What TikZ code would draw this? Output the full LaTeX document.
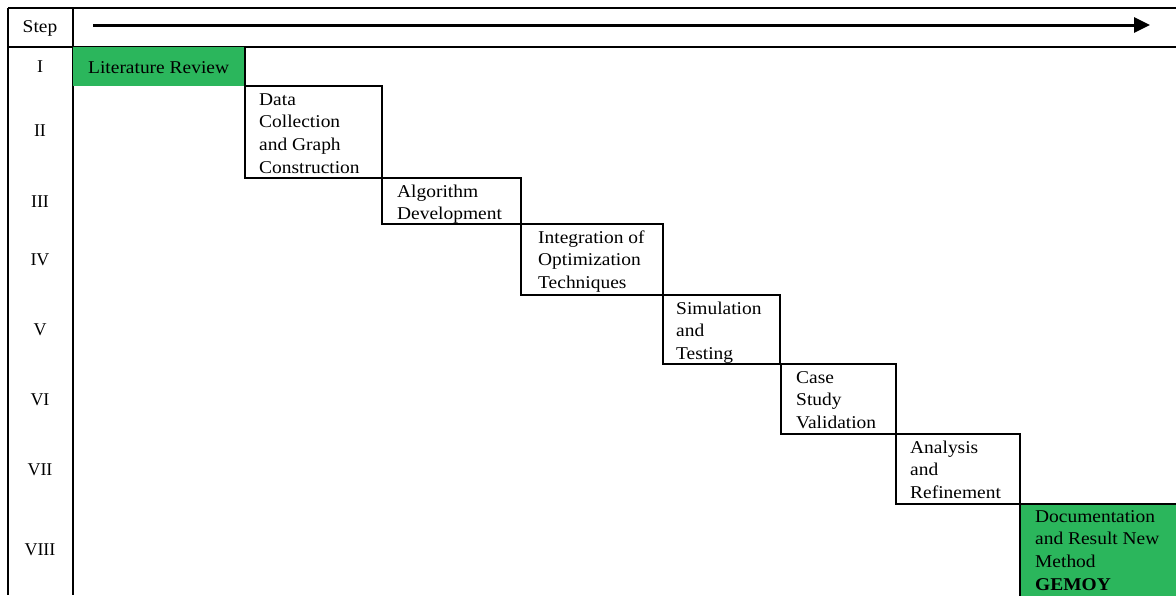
\documentclass[tikz,border=0pt]{standalone}
\usepackage{fontspec}
\setmainfont{Liberation Serif}
\newfontfamily\boxfont[FakeStretch=1.08]{Liberation Serif}
\usetikzlibrary{arrows.meta}
\definecolor{stepgreen}{RGB}{43,182,92}
\newcommand\fstrut{\rule{0pt}{14pt}}
\begin{document}
\begin{tikzpicture}[x=1pt,y=-1pt,
  rule/.style={line width=2pt},
  stepbox/.style={draw, line width=2pt, anchor=north west, inner sep=0pt, outer sep=0pt},
  greenbox/.style={fill=stepgreen, draw=none, anchor=north west, inner sep=0pt, outer sep=0pt},
  lbl/.style={anchor=north west, inner sep=0pt, align=left, font=\boxfont\fontsize{18}{22.7}\selectfont},
  rom/.style={inner sep=0pt, font=\fontsize{18}{22.7}\selectfont},
  timeline/.style={line width=3pt, -{Triangle[length=16pt,width=15pt]}}
]
\useasboundingbox (0,0) rectangle (1176,595);

% table frame
\coordinate (tl) at (8,7.5);
\coordinate (tr) at (1176,7.5);
\coordinate (hl) at (8,47);
\coordinate (hr) at (1176,47);
\coordinate (bl) at (8,595);
\coordinate (cT) at (73,7.5);
\coordinate (cB) at (73,595);
\draw[rule] (tl) -- (tr);
\draw[rule] (hl) -- (hr);
\draw[rule] (tl) -- (bl);
\draw[rule] (cT) -- (cB);

% header
\node[rom, font=\boxfont\fontsize{18}{22.7}\selectfont] (step) at (40,28) {Step};
\coordinate (arrS) at (93,25);
\coordinate (arrE) at (1150,25);
\draw[timeline] (arrS) -- (arrE);

% row numerals
\node[rom] (r1) at (40,67) {I};
\node[rom] (r2) at (40,131) {II};
\node[rom] (r3) at (40,202) {III};
\node[rom] (r4) at (40,260) {IV};
\node[rom] (r5) at (40,330) {V};
\node[rom] (r6) at (40,400) {VI};
\node[rom] (r7) at (40,470) {VII};
\node[rom] (r8) at (40,550) {VIII};

% step boxes
\node[greenbox, minimum width=172pt, minimum height=39pt] (b1) at (73,47) {};
\draw[rule] (b1.north east) -- (b1.south east);
\node[lbl] (t1) at ([xshift=15pt,yshift=-12pt]b1.north west) {\fstrut Literature Review};

\node[stepbox, minimum width=137pt, minimum height=92pt] (b2) at (245,86) {};
\node[lbl] (t2) at ([xshift=14pt,yshift=-5pt]b2.north west) {\fstrut Data\\Collection\\and Graph\\Construction};

\node[stepbox, minimum width=139pt, minimum height=46pt] (b3) at (382,178) {};
\node[lbl] (t3) at ([xshift=15pt,yshift=-5pt]b3.north west) {\fstrut Algorithm\\Development};

\node[stepbox, minimum width=142pt, minimum height=71pt] (b4) at (521,224) {};
\node[lbl] (t4) at ([xshift=17pt,yshift=-5pt]b4.north west) {\fstrut Integration of\\Optimization\\Techniques};

\node[stepbox, minimum width=117pt, minimum height=69pt] (b5) at (663,295) {};
\node[lbl] (t5) at ([xshift=13pt,yshift=-5pt]b5.north west) {\fstrut Simulation\\and\\Testing};

\node[stepbox, minimum width=115pt, minimum height=70pt] (b6) at (781,364) {};
\node[lbl] (t6) at ([xshift=15pt,yshift=-5pt]b6.north west) {\fstrut Case\\Study\\Validation};

\node[stepbox, minimum width=124pt, minimum height=70pt] (b7) at (896,434) {};
\node[lbl] (t7) at ([xshift=14pt,yshift=-5pt]b7.north west) {\fstrut Analysis\\and\\Refinement};

\node[greenbox, minimum width=160pt, minimum height=95pt] (b8) at (1020,504) {};
\draw[rule] (b8.south west) -- (b8.north west) -- (b8.north east);
\node[lbl] (t8) at ([xshift=15pt,yshift=-4pt]b8.north west) {\fstrut Documentation\\and Result New\\Method\\\textbf{GEMOY}};
\end{tikzpicture}
\end{document}
